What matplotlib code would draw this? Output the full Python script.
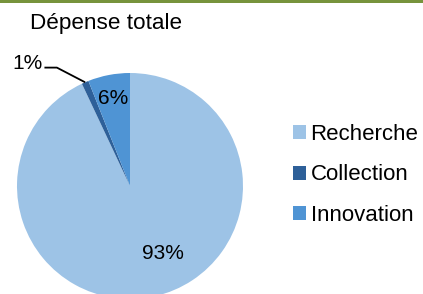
import numpy as np
import matplotlib.pyplot as plt
from matplotlib.patches import Rectangle, Patch

plt.rcParams['font.family'] = ['Liberation Sans', 'DejaVu Sans']

# --- DATA ---
categories = ['Recherche', 'Collection', 'Innovation']
values = [93, 1, 6]
labels = ['93%', '1%', '6%']
colors = ['#9dc3e6', '#2e6099', '#4f94d4']

W, H = 423, 294
fig = plt.figure(figsize=(W / 100, H / 100), dpi=100)

# green bar on top
fig.add_artist(Rectangle((0, 1 - 3 / H), 1, 3 / H, transform=fig.transFigure,
                         color='#77933c', lw=0))

fig.text(30 / W, 1 - 23 / H, 'Dépense totale', fontsize=16.2, va='center', ha='left')

ax = fig.add_axes([17 / W, -5 / H, 226 / W, 226 / H])
wedges, _ = ax.pie(values, colors=colors, startangle=90, counterclock=False,
                   radius=1, wedgeprops=dict(linewidth=0))
ax.set_xlim(-1, 1)
ax.set_ylim(-1, 1)
ax.set_aspect('equal')
ax.axis('off')

def mid(w):
    return np.deg2rad((w.theta1 + w.theta2) / 2)

# inside labels
for w, lab, r in [(wedges[0], labels[0], 0.61), (wedges[2], labels[2], 0.79)]:
    a = mid(w)
    dx = 0.16 if lab == '93%' else 0
    ax.text(r * np.cos(a) + dx, r * np.sin(a), lab, ha='center', va='center', fontsize=15)

# outside label with leader line
a = mid(wedges[1])
ex, ey = np.cos(a), np.sin(a)
elbow = (ex - 0.25, ey + 0.13)
end = (elbow[0] - 0.11, elbow[1])
ax.plot([ex, elbow[0], end[0]], [ey, elbow[1], end[1]], color='black', lw=1.3,
        clip_on=False, solid_capstyle='butt')
ax.text(end[0] - 0.02, end[1] + 0.04, labels[1], ha='right', va='center', fontsize=15)

handles = [Patch(facecolor=c, edgecolor='none') for c in colors]
fig.legend(handles, categories, loc='center left', bbox_to_anchor=(293 / W, 1 - 175 / H),
           frameon=False, fontsize=16, handlelength=0.59, handleheight=0.59,
           handletextpad=0.2, labelspacing=0.88, borderaxespad=0, borderpad=0)

fig.savefig('out.png', dpi=100)
